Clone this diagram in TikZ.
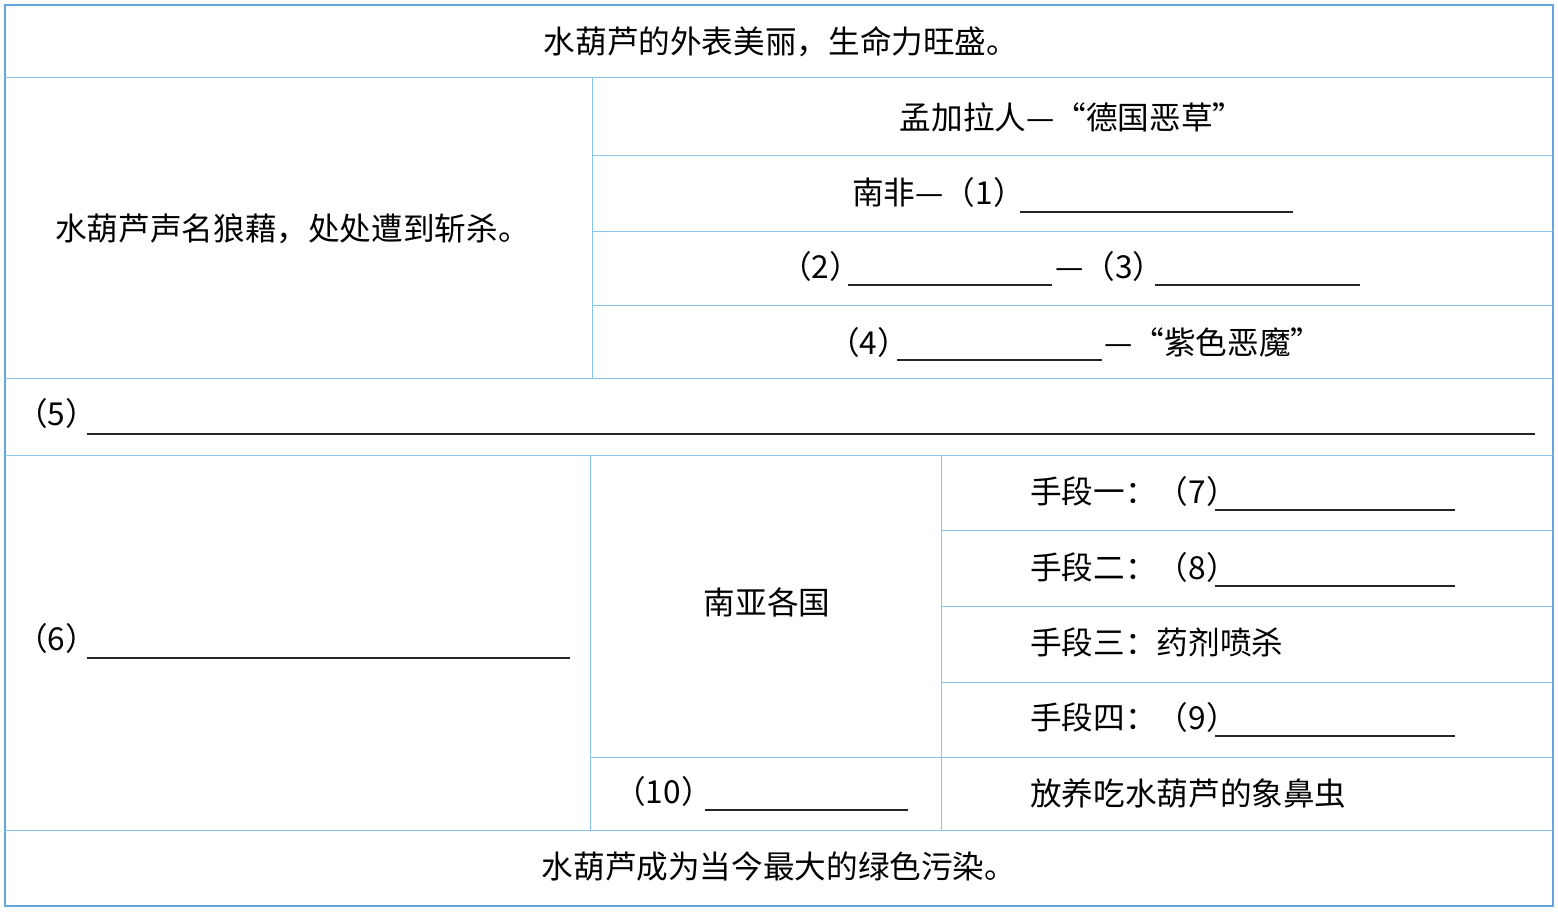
\documentclass[tikz,border=0pt]{standalone}
\usepackage{fontspec}
\newfontfamily\cjk{Noto Sans CJK SC}
\usetikzlibrary{positioning,calc}
\definecolor{gridblue}{RGB}{135,198,232}
\definecolor{frameblue}{RGB}{100,165,222}

\begin{document}
\begin{tikzpicture}[x=0.02cm, y=-0.02cm,
  txt/.style={font=\cjk\fontsize{18}{20}\selectfont, inner sep=0pt},
  lt/.style={txt, anchor=west},
  grid/.style={draw=gridblue, line width=0.5pt},
  frame/.style={draw=frameblue, line width=1.1pt},
  blank/.style={draw=black!85, line width=0.7pt}
]
  \useasboundingbox (0,0) rectangle (1558,912);
  % frame and rules
  \draw[frame] (5,5) rectangle (1553,906);
  \foreach \y in {77,378,455,830} \draw[grid] (5,\y) -- (1553,\y);
  \draw[grid] (592,77) -- (592,378);
  \draw[grid] (590,455) -- (590,830);
  \draw[grid] (941,455) -- (941,830);
  \foreach \y in {155,231,305} \draw[grid] (592,\y) -- (1553,\y);
  \foreach \y in {530,606,682,757} \draw[grid] (941,\y) -- (1553,\y);
  \draw[grid] (590,757) -- (941,757);

  % top and bottom rows
  \node[txt] (top) at (781,42) {水葫芦的外表美丽，生命力旺盛。};
  \node[txt] (bot) at (779,866) {水葫芦成为当今最大的绿色污染。};

  % first block
  \node[lt] (fame) at (55,229) {水葫芦声名狼藉，处处遭到斩杀。};
  \node[txt] (bd) at (1072,117) {孟加拉人—“德国恶草”};
  \node[lt] (sa) at (852,192) {南非—（1）};
  \draw[blank] (1020,212) -- (1293,212);
  \node[lt] (q2) at (780,266) {（2）};
  \draw[blank] (848,285) -- (1052,285);
  \node[lt] (q3) at (1055,266) {—（3）};
  \draw[blank] (1155,285) -- (1360,285);
  \node[lt] (q4) at (828,342) {（4）};
  \draw[blank] (897,360) -- (1102,360);
  \node[lt] (dev) at (1104,342) {—“紫色恶魔”};

  % row 5
  \node[lt] (q5) at (16,413) {（5）};
  \draw[blank] (87,434) -- (1535,434);

  % second block
  \node[lt] (q6) at (16,638) {（6）};
  \draw[blank] (87,658) -- (570,658);
  \node[txt] (asia) at (767,602) {南亚各国};
  \node[lt] (m1) at (1030,491) {手段一：（7）};
  \draw[blank] (1215,510) -- (1455,510);
  \node[lt] (m2) at (1030,567) {手段二：（8）};
  \draw[blank] (1215,586) -- (1455,586);
  \node[lt] (m3) at (1030,642) {手段三：药剂喷杀};
  \node[lt] (m4) at (1030,717) {手段四：（9）};
  \draw[blank] (1215,736) -- (1455,736);
  \node[lt] (q10) at (614,791) {（10）};
  \draw[blank] (705,810) -- (908,810);
  \node[lt] (bug) at (1030,793) {放养吃水葫芦的象鼻虫};
\end{tikzpicture}
\end{document}
